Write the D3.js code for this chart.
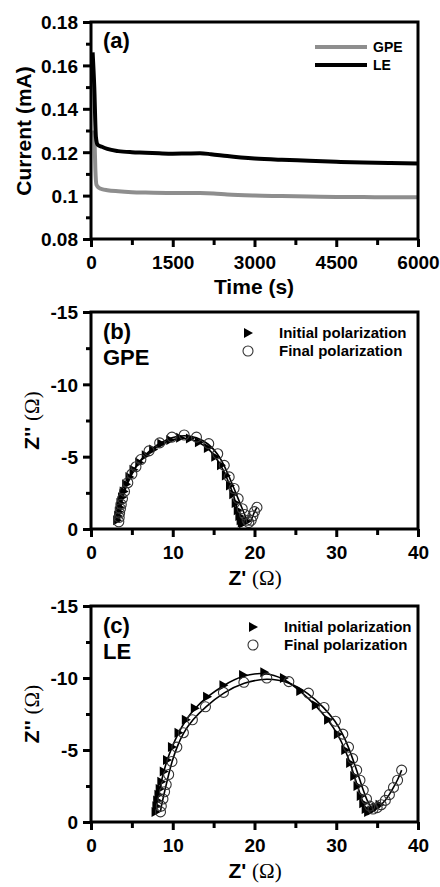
<!DOCTYPE html>
<html>
<head>
<meta charset="utf-8">
<script src="https://cdn.jsdelivr.net/npm/d3@7"></script>
<style>
  html, body { margin: 0; padding: 0; background: #fff; }
  svg { display: block; }
  text { font-family: "Liberation Sans", Arial, sans-serif; font-weight: bold; fill: #000; }
</style>
</head>
<body>
<svg id="chart" width="440" height="887"></svg>
<script>
// ---- (a) chronoamperometry ----
const timeS = [30, 60, 90, 120, 200, 300, 500, 750, 1000, 1250, 1500, 1750, 2000, 2200, 2500, 2750, 3000, 3500, 4000, 4500, 5000, 5500, 6000];
const currentLE  = [0.166, 0.150, 0.127, 0.1235, 0.1225, 0.1215, 0.1205, 0.1200, 0.1198, 0.1195, 0.1193, 0.1194, 0.1195, 0.1191, 0.1182, 0.1176, 0.1171, 0.1165, 0.1161, 0.1156, 0.1152, 0.1150, 0.1148];
const timeGPE = [60, 80, 100, 150, 200, 300, 500, 750, 1000, 1500, 2000, 2250, 2500, 3000, 3500, 4000, 4500, 5000, 5500, 6000];
const currentGPE = [0.130, 0.112, 0.105, 0.1035, 0.1030, 0.1025, 0.1020, 0.1016, 0.1014, 0.1012, 0.1012, 0.1010, 0.1005, 0.1000, 0.0998, 0.0996, 0.0994, 0.0993, 0.0992, 0.0992];
const timeTicks = [0, 1500, 3000, 4500, 6000];
const timeMinor = [750, 2250, 3750, 5250];
const currentTicks = [0.08, 0.10, 0.12, 0.14, 0.16, 0.18];
const currentTickLabels = ["0.08", "0.1", "0.12", "0.14", "0.16", "0.18"];
const currentMinor = [0.09, 0.11, 0.13, 0.15, 0.17];

// ---- (b) GPE impedance, [Z', Z''] ----
const gpeInitial = [[3.2,-0.6],[3.3,-0.9],[3.4,-1.2],[3.5,-1.5],[3.6,-1.8],[3.8,-2.2],[4.0,-2.6],[4.3,-3.1],[4.7,-3.6],[5.2,-4.1],[5.9,-4.6],[6.7,-5.1],[7.6,-5.5],[8.6,-5.9],[9.7,-6.15],[10.9,-6.3],[12.1,-6.25],[13.2,-6.0],[14.3,-5.6],[15.2,-5.0],[15.9,-4.4],[16.5,-3.7],[17.0,-3.0],[17.4,-2.4],[17.7,-1.8],[17.95,-1.3],[18.15,-0.9],[18.3,-0.6],[18.45,-0.45],[18.6,-0.4],[18.8,-0.45],[19.0,-0.55]];
const gpeFinal = [[3.4,-0.5],[3.45,-0.8],[3.5,-1.1],[3.6,-1.4],[3.7,-1.7],[3.85,-2.1],[4.1,-2.6],[4.5,-3.2],[5.0,-3.8],[5.5,-4.3],[6.1,-4.8],[7.1,-5.4],[8.4,-5.95],[9.9,-6.35],[11.4,-6.5],[12.9,-6.35],[14.4,-5.9],[15.5,-5.2],[16.3,-4.4],[16.9,-3.6],[17.5,-2.8],[18.0,-2.1],[18.5,-1.4],[18.8,-1.0],[19.1,-0.6],[19.3,-0.45],[19.6,-0.6],[19.8,-0.9],[20.0,-1.2],[20.3,-1.5]];

// ---- (c) LE impedance, [Z', Z''] ----
const leInitial = [[7.9,-0.7],[8.0,-1.1],[8.1,-1.5],[8.25,-1.9],[8.4,-2.3],[8.6,-2.8],[8.9,-3.5],[9.3,-4.3],[9.9,-5.2],[10.7,-6.2],[11.6,-7.1],[12.7,-7.9],[14.2,-8.7],[16.2,-9.5],[18.6,-10.2],[21.2,-10.4],[23.6,-10.0],[25.6,-9.1],[27.5,-8.1],[29.0,-7.1],[30.2,-6.1],[31.1,-5.0],[31.7,-4.1],[32.2,-3.2],[32.6,-2.5],[33.0,-1.8],[33.3,-1.3],[33.6,-0.9],[33.9,-0.7],[34.3,-0.8],[34.8,-1.0],[35.3,-1.2]];
const leFinal = [[8.5,-0.7],[8.6,-1.1],[8.8,-1.6],[9.0,-2.1],[9.2,-2.6],[9.5,-3.3],[9.9,-4.2],[10.5,-5.2],[11.3,-6.2],[12.4,-7.1],[14.0,-8.0],[16.2,-9.0],[18.7,-9.7],[21.5,-10.0],[24.2,-9.75],[26.6,-8.95],[28.5,-7.95],[29.9,-7.0],[30.8,-6.1],[31.5,-5.2],[32.0,-4.4],[32.5,-3.6],[32.9,-2.9],[33.3,-2.2],[33.7,-1.6],[34.1,-1.1],[34.5,-0.9],[35.0,-1.0],[35.5,-1.2],[36.0,-1.5],[36.5,-1.9],[37.0,-2.4],[37.5,-2.9],[38.0,-3.6]];

const zRealTicks = [0, 10, 20, 30, 40];
const zRealMinor = [5, 15, 25, 35];
const zImagTicks = [0, -5, -10, -15];
const zImagTickLabels = ["0", "-5", "-10", "-15"];
const zImagMinor = [-2.5, -7.5, -12.5];

const seriesNames = ["GPE", "LE"];
const polarizationNames = ["Initial polarization", "Final polarization"];

const svg = d3.select("#chart");
const left = 91, right = 418;
const AXIS_W = 3;
const TICK_FONT = 19;

function frame(g, x, y) {
  const [x0, x1] = x.range();
  const [y0, y1] = y.range();
  g.append("rect")
    .attr("x", x0).attr("y", Math.min(y0, y1))
    .attr("width", x1 - x0).attr("height", Math.abs(y0 - y1))
    .attr("fill", "none").attr("stroke", "#000").attr("stroke-width", AXIS_W);
}

function axes(g, x, y, xt, xm, yt, ytl, ym) {
  const bottom = y.range()[0];
  const ax = g.append("g").attr("transform", `translate(0,${bottom})`)
    .call(d3.axisBottom(x).tickValues(xt).tickSize(8).tickPadding(5).tickFormat(d => String(d)));
  const axm = g.append("g").attr("transform", `translate(0,${bottom})`)
    .call(d3.axisBottom(x).tickValues(xm).tickSize(6).tickFormat(""));
  const ay = g.append("g").attr("transform", `translate(${left},0)`)
    .call(d3.axisLeft(y).tickValues(yt).tickSize(8).tickPadding(5).tickFormat((d, i) => ytl[i]));
  const aym = g.append("g").attr("transform", `translate(${left},0)`)
    .call(d3.axisLeft(y).tickValues(ym).tickSize(5).tickFormat(""));
  [ax, axm, ay, aym].forEach(a => {
    a.select(".domain").remove();
    a.selectAll(".tick line").attr("stroke", "#000").attr("stroke-width", AXIS_W);
    a.selectAll(".tick text")
      .attr("font-family", "'Liberation Sans', Arial, sans-serif")
      .attr("font-weight", "bold").attr("font-size", TICK_FONT).attr("fill", "#000");
  });
  ax.selectAll(".tick text").attr("dy", "0.9em");
  ay.selectAll(".tick text").attr("dy", "0.36em");
}

// ===== Panel (a) =====
{
  const x = d3.scaleLinear([0, 6000], [left, right]);
  const y = d3.scaleLinear([0.08, 0.18], [239, 22]);
  const g = svg.append("g");
  const line = d3.line().curve(d3.curveMonotoneX);
  g.append("path")
    .attr("d", line(timeGPE.map((t, i) => [x(t), y(currentGPE[i])])))
    .attr("fill", "none").attr("stroke", "#8e8e8e").attr("stroke-width", 4);
  g.append("path")
    .attr("d", line(timeS.map((t, i) => [x(t), y(currentLE[i])])))
    .attr("fill", "none").attr("stroke", "#000").attr("stroke-width", 4);
  frame(g, x, y);
  axes(g, x, y, timeTicks, timeMinor, currentTicks, currentTickLabels, currentMinor);

  g.append("text").attr("x", 254).attr("y", 294).attr("text-anchor", "middle")
    .attr("font-size", 21).text("Time (s)");
  g.append("text").attr("transform", "translate(31,131) rotate(-90)")
    .attr("text-anchor", "middle").attr("font-size", 21).text("Current (mA)");
  g.append("text").attr("x", 103).attr("y", 48).attr("font-size", 22).text("(a)");

  const legendColors = ["#8e8e8e", "#000"];
  seriesNames.forEach((name, i) => {
    const ly = 47 + i * 18;
    g.append("line").attr("x1", 315).attr("x2", 367).attr("y1", ly).attr("y2", ly)
      .attr("stroke", legendColors[i]).attr("stroke-width", 4);
    g.append("text").attr("x", 373).attr("y", ly + 5).attr("font-size", 14).text(name);
  });
}

// ===== Nyquist panels =====
const triPath = "M-4,-5 L5,0 L-4,5 Z";

function nyquist(opts) {
  const x = d3.scaleLinear([0, 40], [left, right]);
  const y = d3.scaleLinear([0, -15], [opts.bottom, opts.top]);
  const g = svg.append("g");
  const fit = d3.line().x(d => x(d[0])).y(d => y(d[1])).curve(d3.curveBasis);

  [opts.initial, opts.final].forEach(s => {
    g.append("path").attr("d", fit(s)).attr("fill", "none")
      .attr("stroke", "#000").attr("stroke-width", 1.6);
  });
  g.append("g").selectAll("path").data(opts.initial).join("path")
    .attr("d", triPath)
    .attr("transform", d => `translate(${x(d[0])},${y(d[1])})`)
    .attr("fill", "#000");
  g.append("g").selectAll("circle").data(opts.final).join("circle")
    .attr("cx", d => x(d[0])).attr("cy", d => y(d[1])).attr("r", 5)
    .attr("fill", "none").attr("stroke", "#333").attr("stroke-width", 1.1);

  frame(g, x, y);
  axes(g, x, y, zRealTicks, zRealMinor, zImagTicks, zImagTickLabels, zImagMinor);

  // axis titles
  const xt = g.append("text").attr("x", 255).attr("y", opts.bottom + 56)
    .attr("text-anchor", "middle").attr("font-size", 21);
  xt.append("tspan").text("Z' ");
  xt.append("tspan").attr("font-family", "'Liberation Serif', 'Times New Roman', serif")
    .attr("font-weight", "normal").text("(\u03A9)");
  const yt = g.append("text")
    .attr("transform", `translate(39,${(opts.top + opts.bottom) / 2}) rotate(-90)`)
    .attr("text-anchor", "middle").attr("font-size", 21);
  yt.append("tspan").text("Z'' ");
  yt.append("tspan").attr("font-family", "'Liberation Serif', 'Times New Roman', serif")
    .attr("font-weight", "normal").text("(\u03A9)");

  g.append("text").attr("x", 103).attr("y", opts.top + 27).attr("font-size", 22).text(opts.letter);
  g.append("text").attr("x", 103).attr("y", opts.top + 53).attr("font-size", 22).text(opts.name);

  // legend
  const lx = opts.legendX, ly = opts.top + 21;
  g.append("path").attr("d", triPath).attr("transform", `translate(${lx},${ly})`).attr("fill", "#000");
  g.append("circle").attr("cx", lx).attr("cy", ly + 18).attr("r", 5)
    .attr("fill", "none").attr("stroke", "#333").attr("stroke-width", 1.1);
  polarizationNames.forEach((n, i) => {
    g.append("text").attr("x", lx + 31).attr("y", ly + 5 + i * 18).attr("font-size", 15).text(n);
  });
}

nyquist({ top: 312, bottom: 529, initial: gpeInitial, final: gpeFinal, letter: "(b)", name: seriesNames[0], legendX: 248 });
nyquist({ top: 606, bottom: 822, initial: leInitial, final: leFinal, letter: "(c)", name: seriesNames[1], legendX: 253 });
</script>
</body>
</html>
